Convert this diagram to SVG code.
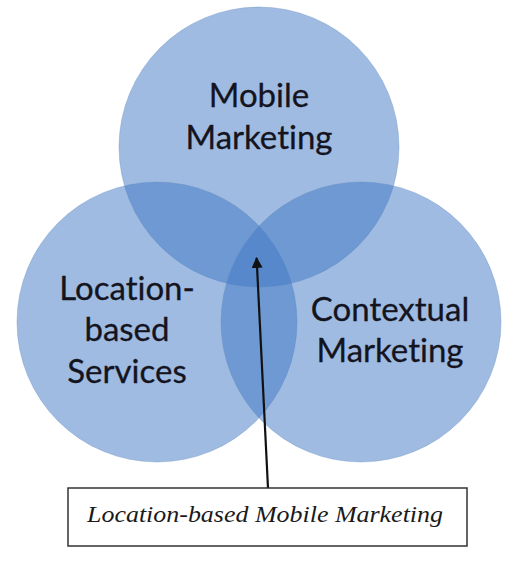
<svg xmlns="http://www.w3.org/2000/svg" width="511" height="567" viewBox="0 0 511 567">
<defs>
<style>
.c{fill:#3f78c4;fill-opacity:0.5;stroke:#5e88c0;stroke-opacity:0.35;stroke-width:1}
.t{font-family:Lato,"Open Sans",sans-serif;font-size:33px;fill:#14141e;text-anchor:middle;stroke:#14141e;stroke-width:0.3;font-variant-ligatures:none;font-feature-settings:"liga" 0}
.b{font-family:"Liberation Serif",serif;font-style:italic;font-size:24px;fill:#1a1a1a;text-anchor:middle}
</style>
<marker id="ah" viewBox="0 0 10 10" refX="9" refY="5" markerWidth="5" markerHeight="5" orient="auto" markerUnits="strokeWidth">
<path d="M0,0 L10,5 L0,10 z" fill="#111"/>
</marker>
</defs>
<rect width="511" height="567" fill="#fff"/>
<g id="mobile">
<circle class="c" cx="259" cy="147" r="140"/>
<text class="t" x="259" y="107">Mobile</text>
<text class="t" x="259" y="149">Marketing</text>
</g>
<g id="lbs">
<circle class="c" cx="157" cy="322" r="140"/>
<text class="t" x="127" y="300">Location-</text>
<text class="t" x="127" y="341">based</text>
<text class="t" x="127" y="383">Services</text>
</g>
<g id="contextual">
<circle class="c" cx="361" cy="322" r="140"/>
<text class="t" x="390" y="321">Contextual</text>
<text class="t" x="390" y="362">Marketing</text>
</g>
<g id="connectors">
<line x1="268" y1="488" x2="256.6" y2="258" stroke="#111" stroke-width="2.2" marker-end="url(#ah)"/>
</g>
<g id="lbmm">
<rect x="68" y="488" width="399" height="58" fill="#fff" stroke="#333" stroke-width="1.5"/>
<text class="b" x="265" y="522" textLength="356" lengthAdjust="spacingAndGlyphs">Location-based Mobile Marketing</text>
</g>
</svg>
